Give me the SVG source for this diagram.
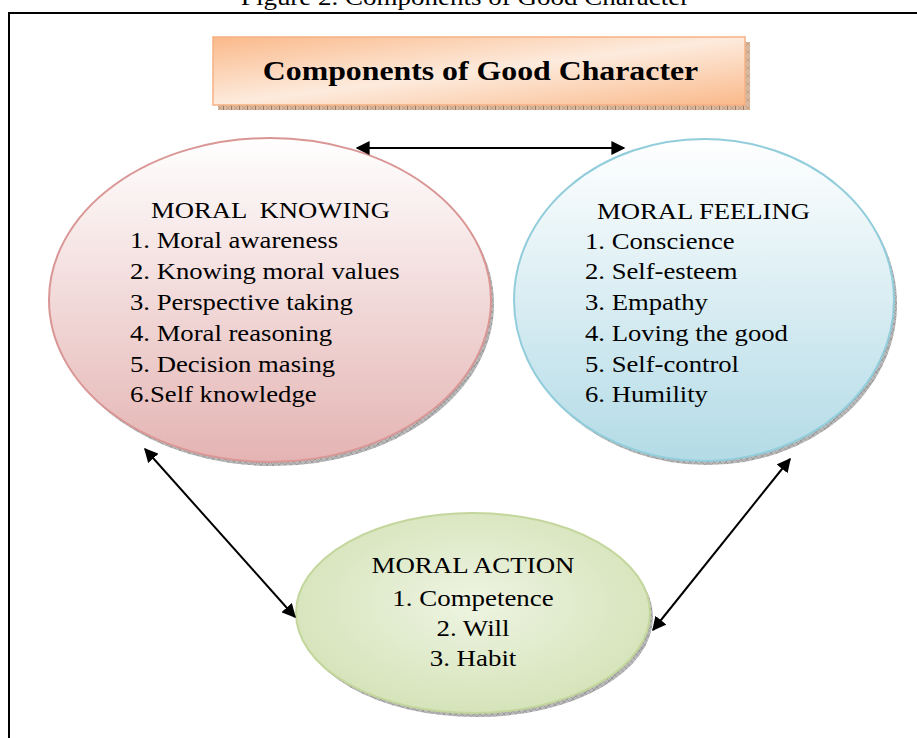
<svg xmlns="http://www.w3.org/2000/svg" width="917" height="738" viewBox="0 0 917 738">
  <style>
    text { font-family: "Liberation Serif", "Times New Roman", "DejaVu Serif", serif; fill: #000; }
    .cap { font-size: 22.5px; }
    .title { font-size: 26.5px; font-weight: bold; }
    .lbl { font-size: 23px; }
    .frame { fill: none; stroke: #000; stroke-width: 2; }
    .conn { fill: none; stroke: #000; stroke-width: 2; marker-start: url(#arrow); marker-end: url(#arrow); }
  </style>
  <defs>
    <marker id="arrow" viewBox="0 0 10 10" refX="9" refY="5" markerWidth="7" markerHeight="7" orient="auto-start-reverse" markerUnits="strokeWidth">
      <path d="M0,0 L10,5 L0,10 Z" fill="#000"/>
    </marker>
    <pattern id="hatchOrange" width="8" height="8" patternUnits="userSpaceOnUse">
      <rect width="8" height="8" fill="#D9B8A0"/>
      <path d="M0,0 L8,8 M8,0 L0,8" stroke="#B8957C" stroke-width="0.6"/>
      <path d="M7.5,0 V8" stroke="#9C7A62" stroke-width="1"/>
    </pattern>
    <pattern id="hatchGray" width="6" height="6" patternUnits="userSpaceOnUse">
      <rect width="6" height="6" fill="#B8B8B8"/>
      <path d="M0,0 L6,6 M6,0 L0,6" stroke="#8A8A8A" stroke-width="0.6"/>
    </pattern>
    <linearGradient id="gTitle" x1="0" y1="0" x2="1" y2="1">
      <stop offset="0" stop-color="#FAB98A"/>
      <stop offset="0.5" stop-color="#FDEBDD"/>
      <stop offset="1" stop-color="#FAB98A"/>
    </linearGradient>
    <linearGradient id="gPink" x1="0" y1="0" x2="0" y2="1">
      <stop offset="0" stop-color="#FFFFFF"/>
      <stop offset="1" stop-color="#E4B4B3"/>
    </linearGradient>
    <linearGradient id="gBlue" x1="0" y1="0" x2="0" y2="1">
      <stop offset="0" stop-color="#FFFFFF"/>
      <stop offset="1" stop-color="#B3DBE6"/>
    </linearGradient>
    <radialGradient id="gGreen" cx="0.5" cy="0.45" r="0.6">
      <stop offset="0" stop-color="#EEF4E2"/>
      <stop offset="1" stop-color="#D3E2B6"/>
    </radialGradient>
  </defs>

  <!-- figure caption and outer frame (type is set slightly wide) -->
  <g transform="matrix(1.2 0 0 1 465 0)">
    <text class="cap" x="0" y="5" text-anchor="middle">Figure 2. Components of Good Character</text>
  </g>
  <path class="frame" d="M9,738 V13 H917"/>

  <!-- title box -->
  <g id="title">
    <rect x="218" y="42" width="532" height="68" fill="url(#hatchOrange)"/>
    <rect x="213" y="37" width="532" height="68" fill="url(#gTitle)" stroke="#F6B183" stroke-width="1.5"/>
    <g transform="matrix(1.2 0 0 1 480.5 0)">
      <text class="title" x="0" y="80" text-anchor="middle">Components of Good Character</text>
    </g>
  </g>

  <!-- moral knowing -->
  <g id="knowing">
    <ellipse cx="273" cy="304" rx="221" ry="162" fill="url(#hatchGray)"/>
    <ellipse cx="270" cy="300" rx="221" ry="162" fill="url(#gPink)" stroke="#D99694" stroke-width="2"/>
    <g transform="matrix(1.16 0 0 1 130 0)">
      <text class="lbl" x="18.1" y="218" xml:space="preserve">MORAL  KNOWING</text>
      <text class="lbl" x="0" y="248">1. Moral awareness</text>
      <text class="lbl" x="0" y="279">2. Knowing moral values</text>
      <text class="lbl" x="0" y="310">3. Perspective taking</text>
      <text class="lbl" x="0" y="341">4. Moral reasoning</text>
      <text class="lbl" x="0" y="372">5. Decision masing</text>
      <text class="lbl" x="0" y="402">6.Self knowledge</text>
    </g>
  </g>

  <!-- moral feeling -->
  <g id="feeling">
    <ellipse cx="707" cy="304" rx="190" ry="161" fill="url(#hatchGray)"/>
    <ellipse cx="704" cy="300" rx="190" ry="161" fill="url(#gBlue)" stroke="#92CDDC" stroke-width="2"/>
    <g transform="matrix(1.16 0 0 1 585 0)">
      <text class="lbl" x="10.3" y="219">MORAL FEELING</text>
      <text class="lbl" x="0" y="249">1. Conscience</text>
      <text class="lbl" x="0" y="279">2. Self-esteem</text>
      <text class="lbl" x="0" y="310">3. Empathy</text>
      <text class="lbl" x="0" y="341">4. Loving the good</text>
      <text class="lbl" x="0" y="372">5. Self-control</text>
      <text class="lbl" x="0" y="402">6. Humility</text>
    </g>
  </g>

  <!-- moral action -->
  <g id="action">
    <ellipse cx="476" cy="617" rx="177" ry="100" fill="url(#hatchGray)"/>
    <ellipse cx="473" cy="613" rx="177" ry="100" fill="url(#gGreen)" stroke="#C3D69B" stroke-width="2"/>
    <g transform="matrix(1.17 0 0 1 473 0)">
      <text class="lbl" x="0" y="573" text-anchor="middle">MORAL ACTION</text>
      <text class="lbl" x="0" y="606" text-anchor="middle">1. Competence</text>
      <text class="lbl" x="0" y="636" text-anchor="middle">2. Will</text>
      <text class="lbl" x="0" y="666" text-anchor="middle">3. Habit</text>
    </g>
  </g>

  <!-- connectors -->
  <g id="connectors">
    <line class="conn" x1="357" y1="148" x2="624" y2="148"/>
    <line class="conn" x1="145" y1="449" x2="295" y2="617"/>
    <line class="conn" x1="790" y1="459" x2="653" y2="630"/>
  </g>
</svg>
